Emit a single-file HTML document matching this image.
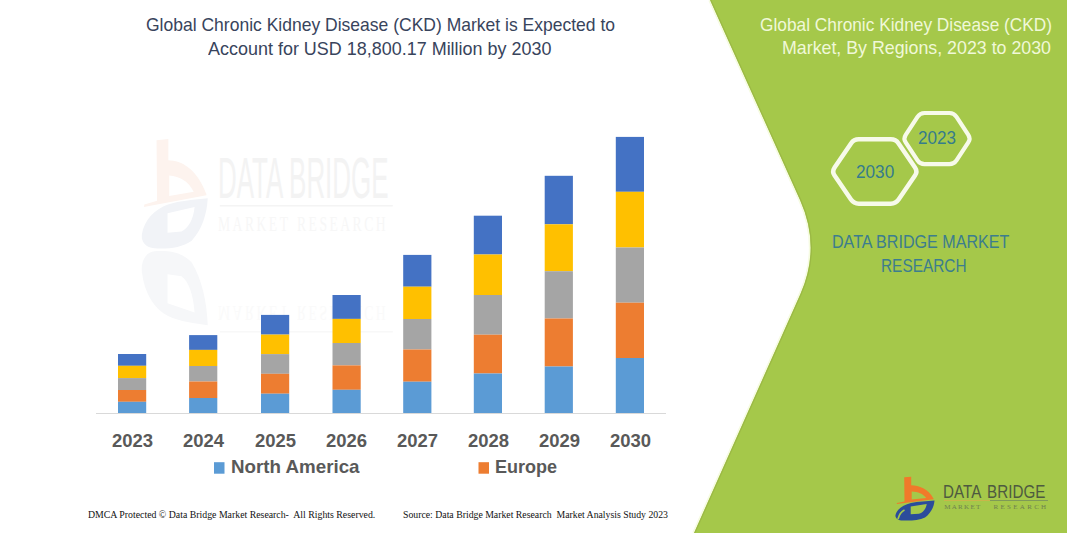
<!DOCTYPE html>
<html><head><meta charset="utf-8">
<style>
html,body{margin:0;padding:0;}
body{width:1067px;height:533px;position:relative;overflow:hidden;background:#fff;font-family:"Liberation Sans",sans-serif;}
.t{position:absolute;white-space:nowrap;line-height:1;transform-origin:0 0;}
svg{position:absolute;left:0;top:0;}
</style></head><body>

<div class="t" style="left:218px;top:145px;font:normal 57px 'Liberation Sans';color:#F3F3F3;transform:scaleX(0.455)">DATA BRIDGE</div>
<div class="t" style="left:218px;top:211px;font:normal 22px 'Liberation Serif';color:#F7F7F7;letter-spacing:4px;transform:scaleX(0.62)">MARKET</div>
<div class="t" style="left:297.3px;top:211px;font:normal 22px 'Liberation Serif';color:#F7F7F7;letter-spacing:4px;transform:scaleX(0.62)">RESEARCH</div>
<div class="t" style="left:218px;top:326px;font:normal 22px 'Liberation Serif';color:#FAFAFA;letter-spacing:4px;transform:scale(0.62,-1)">MARKET</div>
<div class="t" style="left:297.3px;top:326px;font:normal 22px 'Liberation Serif';color:#FAFAFA;letter-spacing:4px;transform:scale(0.62,-1)">RESEARCH</div>


<svg width="1067" height="533" viewBox="0 0 1067 533">
  <path d="M710,0 L800,200 Q821,247 800.4,294 L694,533" fill="none" stroke="#F6FBE2" stroke-width="3.5"/>
  <path d="M710,0 L800,200 Q821,247 800.4,294 L694,533 L1067,533 L1067,0 Z" fill="#A5C84A"/>
  <path d="M710.8,0 L800.8,200 Q821.8,247 801.2,294 L694.8,533" fill="none" stroke="#9BB845" stroke-width="1.1"/>
  <g transform="translate(141,137) scale(1.69,2.5)">
  <path fill-rule="evenodd" fill="#FDF3EE" d="M9.2,1.3 L16.2,0.8 L16.2,9.3 C24,9.5 33,12.5 38.7,22.9 L38.7,23.3 L1.7,28 L2,27 L9.5,25.5 Z M16.7,15.4 C23,15.8 28,17.5 31.2,21.9 L16.7,23.6 Z"/>
  <path fill-rule="evenodd" fill="#F1F3F7" d="M0.5,39 C2,33 8,29 16,27 C23,25.5 32,25 39.5,24.5 C39,31 36,37 30,41.5 C24,44.5 15,44.8 8,44.5 C3,44.3 0,42 0.5,39 Z M15.7,30.5 L31.7,28 C31,33 28,36.5 24,37.8 L15.7,38.3 Z"/>
  </g>
  <g transform="translate(141,416) scale(1.69,-3.7)">
  <path fill-rule="evenodd" fill="#F6F7F9" d="M0.5,39 C2,33 8,29 16,27 C23,25.5 32,25 39.5,24.5 C39,31 36,37 30,41.5 C24,44.5 15,44.8 8,44.5 C3,44.3 0,42 0.5,39 Z M15.7,30.5 L31.7,28 C31,33 28,36.5 24,37.8 L15.7,38.3 Z"/>
  </g>
  <rect x="219.8" y="205" width="173" height="1.5" fill="#F4F4F4"/>
  <rect x="219.8" y="331" width="173" height="1.5" fill="#F8F8F8"/>
  <rect x="96" y="413" width="570" height="1" fill="#D9D9D9"/>
  <rect x="118.0" y="354.0" width="28.2" height="11.8" fill="#4472C4"/>
  <rect x="118.0" y="365.8" width="28.2" height="12.3" fill="#FFC000"/>
  <rect x="118.0" y="378.1" width="28.2" height="11.9" fill="#A5A5A5"/>
  <rect x="118.0" y="390.0" width="28.2" height="11.8" fill="#ED7D31"/>
  <rect x="118.0" y="401.8" width="28.2" height="11.2" fill="#5B9BD5"/>
  <rect x="189.1" y="335.1" width="28.2" height="14.8" fill="#4472C4"/>
  <rect x="189.1" y="349.9" width="28.2" height="16.1" fill="#FFC000"/>
  <rect x="189.1" y="366.0" width="28.2" height="15.5" fill="#A5A5A5"/>
  <rect x="189.1" y="381.5" width="28.2" height="16.5" fill="#ED7D31"/>
  <rect x="189.1" y="398.0" width="28.2" height="15.0" fill="#5B9BD5"/>
  <rect x="261.0" y="314.9" width="28.2" height="19.7" fill="#4472C4"/>
  <rect x="261.0" y="334.6" width="28.2" height="19.5" fill="#FFC000"/>
  <rect x="261.0" y="354.1" width="28.2" height="19.7" fill="#A5A5A5"/>
  <rect x="261.0" y="373.8" width="28.2" height="19.9" fill="#ED7D31"/>
  <rect x="261.0" y="393.7" width="28.2" height="19.3" fill="#5B9BD5"/>
  <rect x="332.5" y="295.0" width="28.2" height="23.9" fill="#4472C4"/>
  <rect x="332.5" y="318.9" width="28.2" height="24.1" fill="#FFC000"/>
  <rect x="332.5" y="343.0" width="28.2" height="22.4" fill="#A5A5A5"/>
  <rect x="332.5" y="365.4" width="28.2" height="24.4" fill="#ED7D31"/>
  <rect x="332.5" y="389.8" width="28.2" height="23.2" fill="#5B9BD5"/>
  <rect x="403.2" y="254.9" width="28.2" height="31.8" fill="#4472C4"/>
  <rect x="403.2" y="286.7" width="28.2" height="32.3" fill="#FFC000"/>
  <rect x="403.2" y="319.0" width="28.2" height="30.5" fill="#A5A5A5"/>
  <rect x="403.2" y="349.5" width="28.2" height="32.2" fill="#ED7D31"/>
  <rect x="403.2" y="381.7" width="28.2" height="31.3" fill="#5B9BD5"/>
  <rect x="473.8" y="215.7" width="28.2" height="38.8" fill="#4472C4"/>
  <rect x="473.8" y="254.5" width="28.2" height="40.5" fill="#FFC000"/>
  <rect x="473.8" y="295.0" width="28.2" height="39.7" fill="#A5A5A5"/>
  <rect x="473.8" y="334.7" width="28.2" height="38.8" fill="#ED7D31"/>
  <rect x="473.8" y="373.5" width="28.2" height="39.5" fill="#5B9BD5"/>
  <rect x="544.7" y="175.8" width="28.2" height="48.5" fill="#4472C4"/>
  <rect x="544.7" y="224.3" width="28.2" height="46.9" fill="#FFC000"/>
  <rect x="544.7" y="271.2" width="28.2" height="47.3" fill="#A5A5A5"/>
  <rect x="544.7" y="318.5" width="28.2" height="48.0" fill="#ED7D31"/>
  <rect x="544.7" y="366.5" width="28.2" height="46.5" fill="#5B9BD5"/>
  <rect x="615.8" y="136.9" width="28.2" height="54.9" fill="#4472C4"/>
  <rect x="615.8" y="191.8" width="28.2" height="55.7" fill="#FFC000"/>
  <rect x="615.8" y="247.5" width="28.2" height="55.2" fill="#A5A5A5"/>
  <rect x="615.8" y="302.7" width="28.2" height="55.3" fill="#ED7D31"/>
  <rect x="615.8" y="358.0" width="28.2" height="55.0" fill="#5B9BD5"/>
  <rect x="214" y="462.2" width="10.5" height="11.5" fill="#5B9BD5"/>
  <rect x="478.5" y="462.2" width="10.5" height="11.5" fill="#ED7D31"/>
  <path d="M834.6,175.6 Q831.8,171.5 834.6,167.4 L851.0,143.4 Q853.8,139.3 858.8,139.3 L890.8,139.3 Q895.8,139.3 898.6,143.4 L915.0,167.4 Q917.8,171.5 915.0,175.6 L898.6,199.6 Q895.8,203.7 890.8,203.7 L858.8,203.7 Q853.8,203.7 851.0,199.6 Z" fill="none" stroke="#F7FAEA" stroke-width="4.5"/>
  <path d="M905.7,142.4 Q903.2,138.6 905.7,134.8 L917.5,116.8 Q920.0,113.0 924.5,113.0 L949.5,113.0 Q954.0,113.0 956.5,116.8 L968.3,134.8 Q970.8,138.6 968.3,142.4 L956.5,160.4 Q954.0,164.2 949.5,164.2 L924.5,164.2 Q920.0,164.2 917.5,160.4 Z" fill="none" stroke="#F7FAEA" stroke-width="4.2"/>
  <g transform="translate(895,476)">
  <path fill-rule="evenodd" fill="#F07A2A" d="M9.2,1.3 L16.2,0.8 L16.2,9.3 C24,9.5 33,12.5 38.7,22.9 L38.7,23.3 L1.7,28 L2,27 L9.5,25.5 Z M16.7,15.4 C23,15.8 28,17.5 31.2,21.9 L16.7,23.6 Z"/>
  <path fill-rule="evenodd" fill="#2B4C9B" d="M0.5,39 C2,33 8,29 16,27 C23,25.5 32,25 39.5,24.5 C39,31 36,37 30,41.5 C24,44.5 15,44.8 8,44.5 C3,44.3 0,42 0.5,39 Z M15.7,30.5 L31.7,28 C31,33 28,36.5 24,37.8 L15.7,38.3 Z"/>
  <path d="M3,43 Q5,36 9.5,34" stroke="#A5C84A" stroke-width="1.7" fill="none"/>
  </g>
  <rect x="944" y="500" width="46" height="1" fill="#C9B54A"/>
  <rect x="990" y="500" width="58" height="1" fill="#7F9A58"/>
</svg>
<div class="t" style="left:145.70px;top:15px;font:normal 17.8px 'Liberation Sans';color:#38445C;transform:scaleX(0.9846)">Global Chronic Kidney Disease (CKD) Market is Expected to</div>
<div class="t" style="left:208.40px;top:39px;font:normal 17.8px 'Liberation Sans';color:#38445C;transform:scaleX(1.0102)">Account for USD 18,800.17 Million by 2030</div>
<div class="t" style="left:759.50px;top:15px;font:normal 18.2px 'Liberation Sans';color:#F0F8D8;transform:scaleX(0.9506)">Global Chronic Kidney Disease (CKD)</div>
<div class="t" style="left:781.72px;top:38px;font:normal 18.2px 'Liberation Sans';color:#F0F8D8;transform:scaleX(0.9782)">Market, By Regions, 2023 to 2030</div>
<div class="t" style="left:111.80px;top:431px;font:bold 17.8px 'Liberation Sans';color:#595959;transform:scaleX(1.0386)">2023</div>
<div class="t" style="left:182.90px;top:431px;font:bold 17.8px 'Liberation Sans';color:#595959;transform:scaleX(1.0386)">2024</div>
<div class="t" style="left:254.80px;top:431px;font:bold 17.8px 'Liberation Sans';color:#595959;transform:scaleX(1.0386)">2025</div>
<div class="t" style="left:326.30px;top:431px;font:bold 17.8px 'Liberation Sans';color:#595959;transform:scaleX(1.0386)">2026</div>
<div class="t" style="left:397.00px;top:431px;font:bold 17.8px 'Liberation Sans';color:#595959;transform:scaleX(1.0386)">2027</div>
<div class="t" style="left:467.60px;top:431px;font:bold 17.8px 'Liberation Sans';color:#595959;transform:scaleX(1.0386)">2028</div>
<div class="t" style="left:538.50px;top:431px;font:bold 17.8px 'Liberation Sans';color:#595959;transform:scaleX(1.0386)">2029</div>
<div class="t" style="left:609.60px;top:431px;font:bold 17.8px 'Liberation Sans';color:#595959;transform:scaleX(1.0386)">2030</div>
<div class="t" style="left:230.95px;top:457px;font:bold 17.8px 'Liberation Sans';color:#595959;transform:scaleX(1.0548)">North America</div>
<div class="t" style="left:494.59px;top:457px;font:bold 17.8px 'Liberation Sans';color:#595959;transform:scaleX(1.0138)">Europe</div>
<div class="t" style="left:87.50px;top:509px;font:normal 9.8px 'Liberation Serif';color:#111;transform:scaleX(1.0014)">DMCA Protected © Data Bridge Market Research-  All Rights Reserved.</div>
<div class="t" style="left:402.70px;top:509px;font:normal 9.8px 'Liberation Serif';color:#111;transform:scaleX(0.9968)">Source: Data Bridge Market Research  Market Analysis Study 2023</div>
<div class="t" style="left:856.10px;top:162px;font:normal 18.2px 'Liberation Sans';color:#357C8C;transform:scaleX(0.9444)">2030</div>
<div class="t" style="left:918.30px;top:128px;font:normal 18.2px 'Liberation Sans';color:#357C8C;transform:scaleX(0.9394)">2023</div>
<div class="t" style="left:831.51px;top:232px;font:normal 18.0px 'Liberation Sans';color:#3C7D8E;transform:scaleX(0.8938)">DATA BRIDGE MARKET</div>
<div class="t" style="left:880.65px;top:256px;font:normal 18.0px 'Liberation Sans';color:#3C7D8E;transform:scaleX(0.8549)">RESEARCH</div>

<div class="t" style="left:943.4px;top:481px;font:normal 19px 'Liberation Sans';color:#4E5A40;word-spacing:3px;transform:scaleX(0.80)">DATA BRIDGE</div>
<div class="t" style="left:944.2px;top:503px;font:normal 7px 'Liberation Serif';color:#6E8050;letter-spacing:1.3px">MARKET</div>
<div class="t" style="left:993.5px;top:503px;font:normal 7px 'Liberation Serif';color:#6E8050;letter-spacing:2.3px">RESEARCH</div>

</body></html>
